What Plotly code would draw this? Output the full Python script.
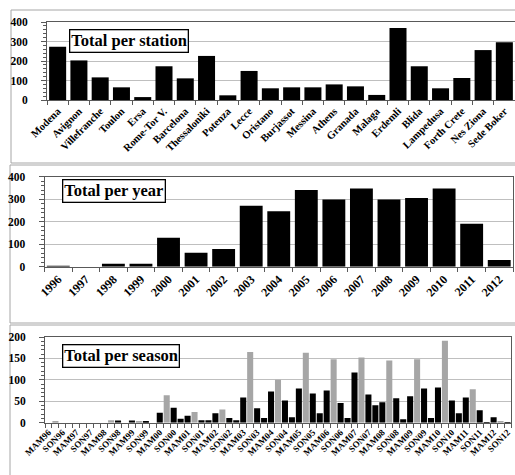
import plotly.graph_objects as go

W, H = 515, 475

# ---- data -------------------------------------------------------------
stations = ["Modena", "Avignon", "Villefranche", "Toulon", "Ersa", "Rome-Tor V.",
            "Barcelona", "Thessaloniki", "Potenza", "Lecce", "Oristano", "Burjassot",
            "Messina", "Athens", "Granada", "Malaga", "Erdemli", "Blida",
            "Lampedusa", "Forth Crete", "Nes Ziona", "Sede Boker"]
station_totals = [273, 203, 116, 65, 15, 173, 111, 226, 24, 149, 60, 65,
                  65, 80, 70, 26, 369, 173, 60, 113, 256, 296]

years = ["1996", "1997", "1998", "1999", "2000", "2001", "2002", "2003", "2004",
         "2005", "2006", "2007", "2008", "2009", "2010", "2011", "2012"]
year_totals = [2, 0, 13, 13, 129, 62, 79, 271, 247, 341, 299, 348, 299, 305, 348, 191, 30]

season_names = ["MAM", "JJA", "SON", "DJF"]
season_years = ["96", "97", "98", "99", "00", "01", "02", "03", "04",
                "05", "06", "07", "08", "09", "10", "11", "12"]
season_labels = [s + y for y in season_years for s in season_names][:67]
season_totals = [
    0, 2, 0, 0,        # 1996
    0, 0, 0, 0,        # 1997
    0, 6, 5, 0,        # 1998
    5, 4, 3, 0,        # 1999
    23, 64, 35, 9,     # 2000
    16, 25, 6, 6,      # 2001
    22, 31, 11, 6,     # 2002
    59, 165, 34, 11,   # 2003
    73, 100, 52, 13,   # 2004
    80, 163, 68, 22,   # 2005
    75, 148, 46, 11,   # 2006
    117, 152, 66, 41,  # 2007
    48, 145, 57, 8,    # 2008
    62, 148, 80, 11,   # 2009
    82, 191, 52, 22,   # 2010
    59, 78, 29, 1.5,   # 2011
    13, 4, 1.5,        # 2012
]
season_colors = ["#a6a6a6" if lab.startswith("JJA") else "#000000" for lab in season_labels]
season_ticktext = [lab if i % 2 == 0 else "" for i, lab in enumerate(season_labels)]

# ---- helpers ----------------------------------------------------------
def px_x(p):
    return p / W


def px_y(p):
    return 1 - p / H


FONT = "Liberation Serif"
AXIS_LINE = "#595959"
GRID = "#bfbfbf"
PANEL = "#a6a6a6"

fig = go.Figure()

fig.add_trace(go.Bar(x=stations, y=station_totals, marker_color="#000000",
                     marker_line_width=0, width=0.8, xaxis="x", yaxis="y"))
fig.add_trace(go.Bar(x=years, y=year_totals, marker_color="#000000",
                     marker_line_width=0, width=0.83, xaxis="x2", yaxis="y2"))
fig.add_trace(go.Bar(x=season_labels, y=season_totals, marker_color=season_colors,
                     marker_line_width=0, width=0.87, xaxis="x3", yaxis="y3"))


def xaxis_style(domain, size, **kw):
    d = dict(domain=domain, type="category", showline=True, mirror=True,
             linecolor=AXIS_LINE, linewidth=1, showgrid=False, automargin=False,
             ticks="outside", tickson="boundaries", ticklen=4, tickcolor=AXIS_LINE,
             tickangle=-45, fixedrange=True,
             tickfont=dict(family=FONT, size=size, color="#000000", weight="bold"))
    d.update(kw)
    return d


def yaxis_style(domain, rng, dtick, minor_dtick, anchor):
    return dict(domain=domain, range=rng, dtick=dtick, anchor=anchor,
                showline=True, mirror=True, linecolor=AXIS_LINE, linewidth=1,
                showgrid=True, gridcolor=GRID, gridwidth=1, zeroline=False,
                automargin=False,
                ticks="outside", ticklen=5, tickcolor=AXIS_LINE,
                minor=dict(dtick=minor_dtick, ticks="outside", ticklen=3,
                           tickcolor=AXIS_LINE, showgrid=False),
                ticklabelstandoff=11, fixedrange=True,
                tickfont=dict(family=FONT, size=11.5, color="#000000", weight="bold"))


fig.update_layout(
    width=W, height=H,
    margin=dict(l=0, r=0, t=0, b=0, autoexpand=False),
    paper_bgcolor="white", plot_bgcolor="white",
    showlegend=False,
    xaxis=xaxis_style([px_x(47), 1.0], 10.5, anchor="y", range=[-0.5, 21.5]),
    yaxis=yaxis_style([px_y(100), px_y(22)], [0, 400], 100, 20, "x"),
    xaxis2=xaxis_style([px_x(44.5), px_x(513)], 12, anchor="y2", range=[-0.5, 16.5]),
    yaxis2=yaxis_style([px_y(266.7), px_y(176.7)], [0, 400], 100, 20, "x2"),
    xaxis3=xaxis_style([px_x(45), px_x(511)], 9, anchor="y3", range=[-0.5, 66.5],
                       tickmode="array", tickvals=season_labels, ticktext=season_ticktext),
    yaxis3=yaxis_style([px_y(422.7), px_y(337)], [0, 200], 50, 10, "x3"),
)

# panel frames
for (x0, y0, y1) in [(11, 10, 163), (10, 165, 323), (10, 325, 480)]:
    fig.add_shape(type="rect", xref="paper", yref="paper",
                  x0=px_x(x0), x1=px_x(530), y0=px_y(y1), y1=px_y(y0),
                  line=dict(color=PANEL, width=1), layer="below")

# boxed panel titles
for text, x, y in [("Total per station", 69, 29),
                   ("Total per year", 62, 179),
                   ("Total per season", 62, 344)]:
    fig.add_annotation(text=text, xref="paper", yref="paper",
                       x=px_x(x), y=px_y(y), xanchor="left", yanchor="top",
                       showarrow=False, bgcolor="white",
                       bordercolor="#000000", borderwidth=1.3, borderpad=1,
                       font=dict(family=FONT, size=16.5, color="#000000", weight="bold"))

fig.write_html("out.html", config={"displayModeBar": False})
